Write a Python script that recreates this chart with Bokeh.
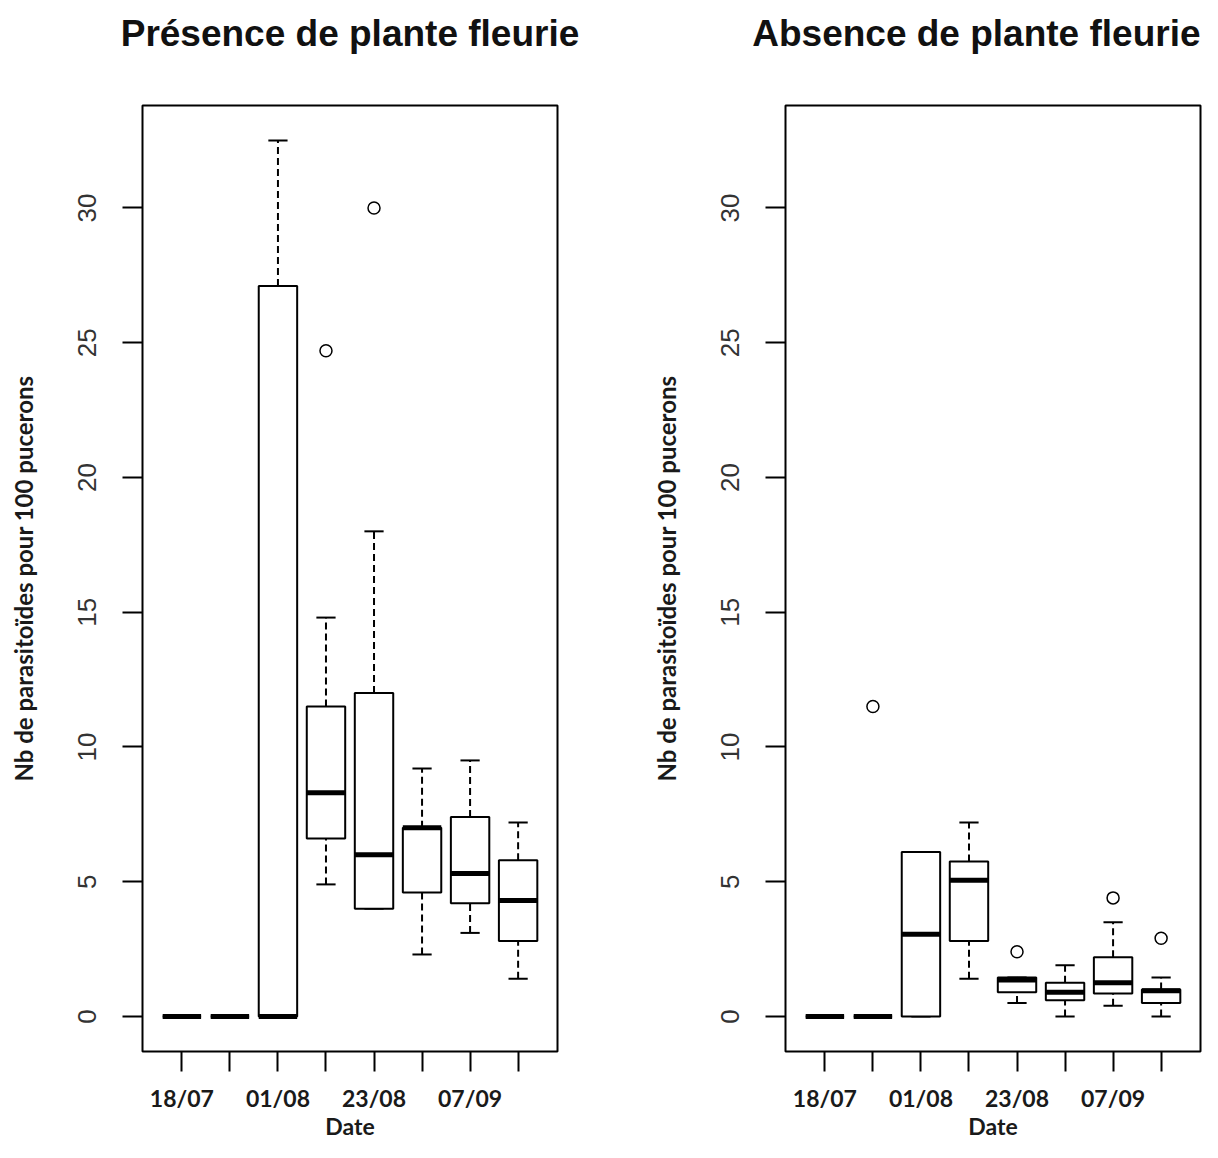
from bokeh.plotting import figure
from bokeh.layouts import row
from bokeh.models import FixedTicker, Range1d, Title
from bokeh.embed import file_html
from bokeh.resources import INLINE

# ---------------- data ----------------
dates = ["18/07", "", "01/08", "", "23/08", "", "07/09", ""]
y_ticks = [0, 5, 10, 15, 20, 25, 30]

# Présence de plante fleurie
pres_q1 = [0, 0, 0, 6.6, 4.0, 4.6, 4.2, 2.8]
pres_med = [0, 0, 0, 8.3, 6.0, 7.0, 5.3, 4.3]
pres_q3 = [0, 0, 27.1, 11.5, 12.0, 7.0, 7.4, 5.8]
pres_lo = [0, 0, 0, 4.9, 4.0, 2.3, 3.1, 1.4]
pres_hi = [0, 0, 32.5, 14.8, 18.0, 9.2, 9.5, 7.2]
pres_out_x = [4, 5]
pres_out_y = [24.7, 30.0]

# Absence de plante fleurie
abs_q1 = [0, 0, 0, 2.8, 0.9, 0.6, 0.85, 0.5]
abs_med = [0, 0, 3.05, 5.05, 1.35, 0.9, 1.25, 0.95]
abs_q3 = [0, 0, 6.1, 5.75, 1.45, 1.25, 2.2, 1.0]
abs_lo = [0, 0, 0, 1.4, 0.5, 0.0, 0.4, 0.0]
abs_hi = [0, 0, 6.1, 7.2, 1.45, 1.9, 3.5, 1.45]
abs_out_x = [2, 5, 7, 8]
abs_out_y = [11.5, 2.4, 4.4, 2.9]

BOX_W = 0.8
CAP_W = 0.4
CAL = "Lato"


def make_panel(title, q1, med, q3, lo, hi, out_x, out_y, left_b, right_b, t_align):
    xs = list(range(1, len(dates) + 1))
    n = len(xs)
    p = figure(width=601, height=1142, output_backend="svg", toolbar_location=None,
               x_range=Range1d(0.5 - 0.04 * n, n + 0.5 + 0.04 * n),
               y_range=Range1d(-1.3, 33.8),
               min_border_left=left_b, min_border_right=right_b,
               min_border_top=105, min_border_bottom=90,
               title=title)
    p.background_fill_color = "white"
    p.border_fill_color = "white"
    p.outline_line_color = "black"
    p.outline_line_width = 2
    p.outline_line_alpha = 1
    p.grid.visible = False

    # spacer between frame and title (pushes the title upwards)
    p.add_layout(Title(text=" ", text_font_size="20px", standoff=28), "above")

    p.title.align = t_align
    p.title.text_font = "Liberation Sans"
    p.title.text_font_style = "bold"
    p.title.text_font_size = "37px"
    p.title.text_color = "#111111"
    p.title.vertical_align = "bottom"
    p.title.standoff = 0

    # whiskers
    p.segment(x0=xs, y0=q3, x1=xs, y1=hi, line_color="black", line_width=2,
              line_dash="7 4")
    p.segment(x0=xs, y0=lo, x1=xs, y1=q1, line_color="black", line_width=2,
              line_dash="7 4")
    # caps
    p.segment(x0=[x - CAP_W / 2 for x in xs], y0=hi, x1=[x + CAP_W / 2 for x in xs], y1=hi,
              line_color="black", line_width=2)
    p.segment(x0=[x - CAP_W / 2 for x in xs], y0=lo, x1=[x + CAP_W / 2 for x in xs], y1=lo,
              line_color="black", line_width=2)
    # boxes
    p.quad(left=[x - BOX_W / 2 for x in xs], right=[x + BOX_W / 2 for x in xs],
           bottom=q1, top=q3, fill_color="white", line_color="black", line_width=2)
    # medians
    p.segment(x0=[x - BOX_W / 2 for x in xs], y0=med, x1=[x + BOX_W / 2 for x in xs], y1=med,
              line_color="black", line_width=5, line_cap="butt")
    # outliers
    p.scatter(out_x, out_y, marker="circle", size=12, fill_color=None,
              line_color="black", line_width=1.5)

    # x axis
    xa = p.xaxis[0]
    xa.ticker = FixedTicker(ticks=xs)
    xa.major_label_overrides = {x: d for x, d in zip(xs, dates)}
    xa.axis_label = "Date"
    xa.axis_line_color = None
    xa.major_tick_out = 20
    xa.major_tick_in = 0
    xa.minor_tick_line_color = None
    xa.major_tick_line_color = "black"
    xa.major_tick_line_width = 2
    xa.major_label_standoff = 12
    xa.major_label_text_font = CAL
    xa.major_label_text_font_style = "bold"
    xa.major_label_text_font_size = "23px"
    xa.major_label_text_color = "#1a1a1a"
    xa.axis_label_standoff = -3
    xa.axis_label_text_font = CAL
    xa.axis_label_text_font_style = "bold"
    xa.axis_label_text_font_size = "23px"
    xa.axis_label_text_color = "#1a1a1a"

    # y axis
    ya = p.yaxis[0]
    ya.ticker = FixedTicker(ticks=y_ticks)
    ya.axis_label = "Nb de parasitoïdes pour 100 pucerons"
    ya.axis_line_color = None
    ya.major_tick_out = 20
    ya.major_tick_in = 0
    ya.minor_tick_line_color = None
    ya.major_tick_line_color = "black"
    ya.major_tick_line_width = 2
    ya.major_label_orientation = "vertical"
    ya.major_label_standoff = 26
    ya.major_label_text_font = "Liberation Sans"
    ya.major_label_text_font_size = "26px"
    ya.major_label_text_color = "#333333"
    ya.axis_label_standoff = 38
    ya.axis_label_text_font = CAL
    ya.axis_label_text_font_style = "bold"
    ya.axis_label_text_font_size = "24px"
    ya.axis_label_text_color = "#1a1a1a"
    return p


p1 = make_panel("Présence de plante fleurie", pres_q1, pres_med, pres_q3, pres_lo, pres_hi,
                pres_out_x, pres_out_y, 142, 44, "center")
p2 = make_panel("Absence de plante fleurie", abs_q1, abs_med, abs_q3, abs_lo, abs_hi,
                abs_out_x, abs_out_y, 184, 2, "right")

layout = row(p1, p2)
open("out.html", "w").write(file_html(layout, INLINE))
